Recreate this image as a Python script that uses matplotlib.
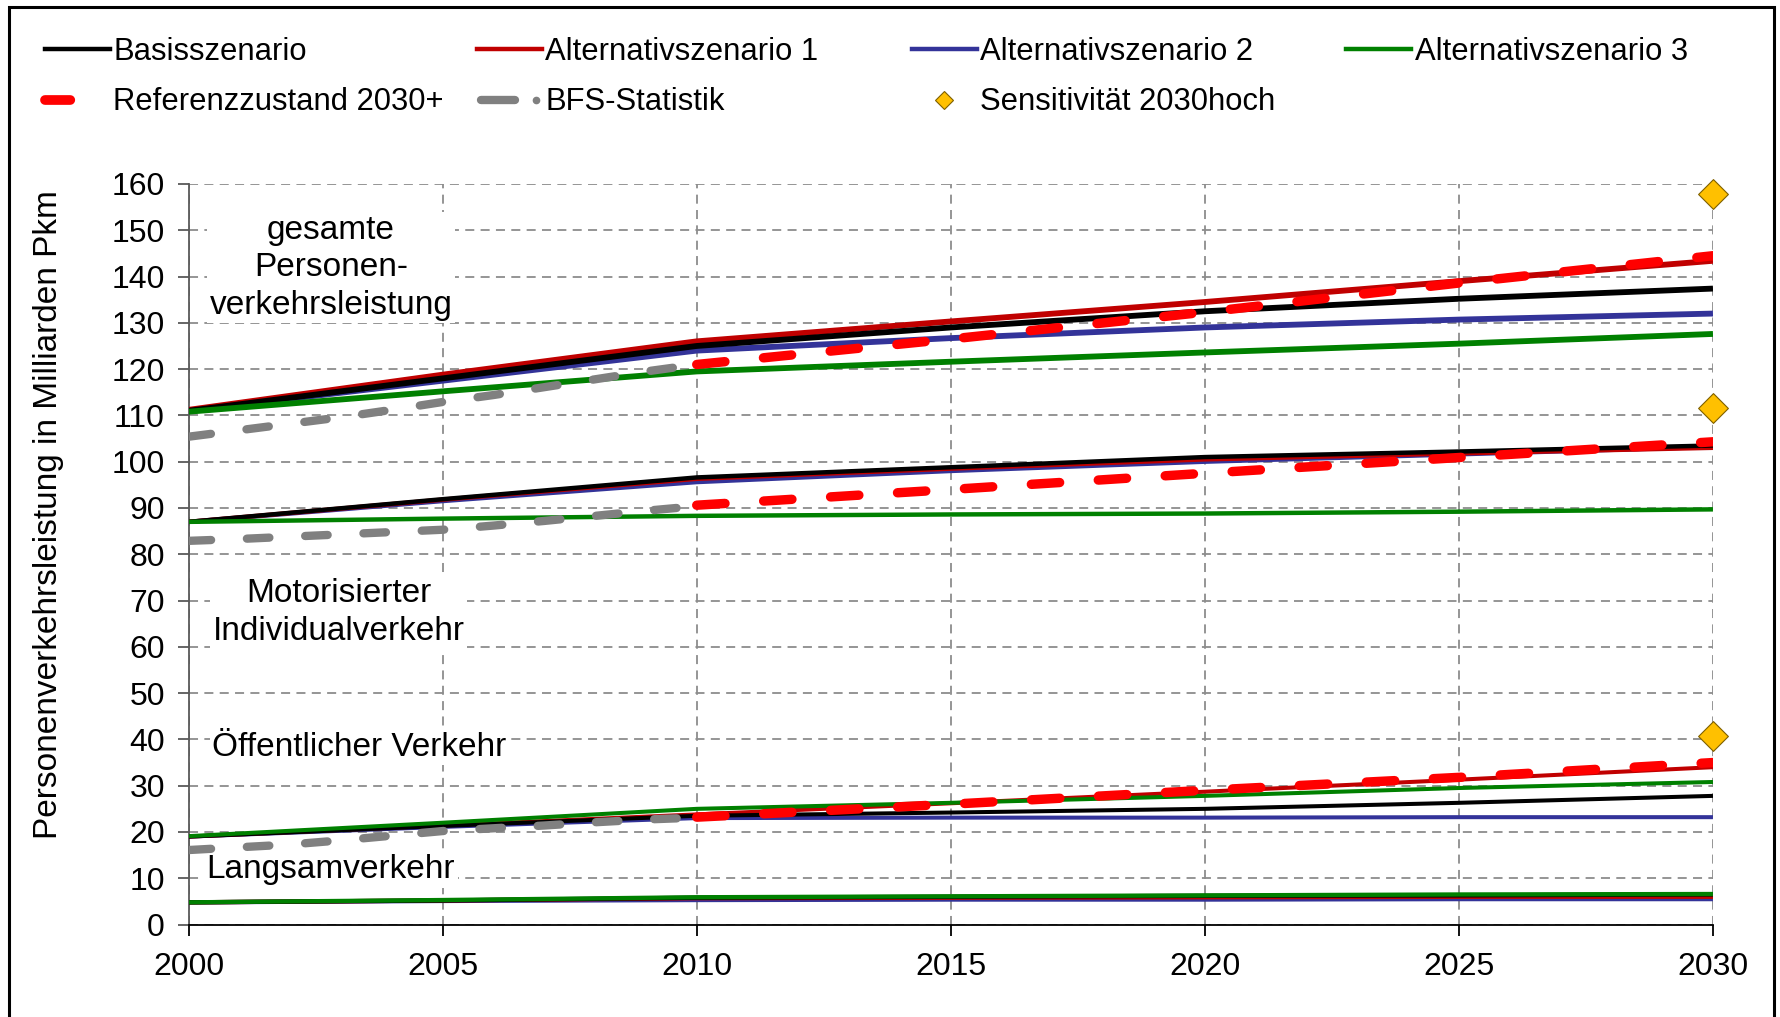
import matplotlib
matplotlib.use("Agg")
import matplotlib.pyplot as plt
from matplotlib.lines import Line2D
from matplotlib.patches import Rectangle
from matplotlib.legend_handler import HandlerBase

plt.rcParams['font.family'] = ['Liberation Sans', 'DejaVu Sans']

# ---------------- data ----------------
years = [2000, 2005, 2010, 2015, 2020, 2025, 2030]
ref_years = [2010, 2015, 2020, 2025, 2030]
bfs_years = [2000, 2001, 2002, 2003, 2004, 2005, 2006, 2007, 2008, 2009, 2010]

# gesamte Personenverkehrsleistung
tot_basis = [111.0, 118.0, 125.0, 129.0, 132.5, 135.2, 137.4]
tot_alt1 = [111.2, 118.8, 126.0, 130.3, 134.5, 139.0, 143.4]
tot_alt2 = [111.0, 117.5, 124.0, 126.7, 129.0, 130.7, 132.0]
tot_alt3 = [110.8, 115.2, 119.5, 121.6, 123.6, 125.5, 127.6]
tot_ref = [121.0, 126.5, 132.3, 138.6, 144.5]
tot_bfs = [105.4, 106.8, 108.2, 109.6, 111.2, 112.9, 114.4, 116.1, 117.8, 119.5, 121.0]

# Motorisierter Individualverkehr
miv_basis = [87.0, 91.9, 96.6, 98.8, 101.0, 102.2, 103.5]
miv_alt1 = [87.0, 91.8, 96.3, 98.5, 100.5, 101.8, 103.0]
miv_alt2 = [87.0, 91.5, 95.6, 98.0, 100.0, 101.6, 103.2]
miv_alt3 = [87.0, 87.7, 88.3, 88.6, 88.8, 89.2, 89.7]
miv_ref = [90.6, 94.0, 97.5, 100.9, 104.3]
miv_bfs = [82.9, 83.3, 83.8, 84.3, 84.8, 85.3, 86.2, 87.2, 88.3, 89.4, 90.4]

# Öffentlicher Verkehr
ov_basis = [19.0, 21.3, 23.5, 24.2, 25.0, 26.3, 27.8]
ov_alt1 = [19.0, 21.4, 23.8, 26.2, 28.7, 31.3, 34.0]
ov_alt2 = [19.0, 21.1, 23.0, 23.1, 23.1, 23.2, 23.2]
ov_alt3 = [19.1, 22.0, 25.0, 26.3, 27.8, 29.5, 30.8]
ov_ref = [23.2, 26.0, 29.0, 31.8, 35.0]
ov_bfs = [16.1, 16.7, 17.3, 18.2, 19.2, 20.2, 20.8, 21.4, 22.1, 22.7, 23.1]

# Langsamverkehr
lv_basis = [4.8, 5.2, 5.8, 6.0, 6.2, 6.3, 6.5]
lv_alt1 = [4.8, 5.2, 5.7, 5.8, 5.9, 6.0, 6.0]
lv_alt2 = [4.8, 5.1, 5.3, 5.4, 5.4, 5.5, 5.5]
lv_alt3 = [4.8, 5.3, 5.9, 6.1, 6.3, 6.5, 6.6]

# Sensitivität 2030hoch
sens_years = [2030, 2030, 2030]
sens_values = [157.8, 111.5, 40.8]

labels = ["Basisszenario", "Alternativszenario 1", "Alternativszenario 2",
          "Alternativszenario 3", "Referenzzustand 2030+", "BFS-Statistik",
          "Sensitivität 2030hoch"]
x_ticks = [2000, 2005, 2010, 2015, 2020, 2025, 2030]
y_ticks = list(range(0, 161, 10))

# ---------------- styles ----------------
C_BASIS = "#000000"
C_ALT1 = "#C00000"
C_ALT2 = "#333399"
C_ALT3 = "#008000"
C_REF = "#FF0000"
C_BFS = "#808080"
C_SENS = "#FFC000"
GRID = "#8C8C8C"
FS_TICK = 23
FS_LEG = 22.3
FS_ANN = 24
FS_YL = 24

fig = plt.figure(figsize=(17.81, 10.17), dpi=100)
ax = fig.add_axes([0.1059, 0.0909, 0.9618 - 0.1059, 0.8191 - 0.0909])

segments = [((tot_basis, tot_alt1, tot_alt2, tot_alt3), 4.2),
            ((miv_basis, miv_alt1, miv_alt2, miv_alt3), 3.2),
            ((ov_basis, ov_alt1, ov_alt2, ov_alt3), 2.9),
            ((lv_basis, lv_alt1, lv_alt2, lv_alt3), 3.1)]
for (b, a1, a2, a3), lw in segments:
    ax.plot(years, a2, color=C_ALT2, lw=lw, zorder=3, solid_capstyle='butt')
    ax.plot(years, a1, color=C_ALT1, lw=lw, zorder=3.1, solid_capstyle='butt')
    ax.plot(years, b, color=C_BASIS, lw=lw, zorder=3.2, solid_capstyle='butt')
    ax.plot(years, a3, color=C_ALT3, lw=lw, zorder=3.3, solid_capstyle='butt')

for r in [tot_ref, miv_ref, ov_ref]:
    ax.plot(ref_years, r, color=C_REF, lw=6.8, dashes=(3.0, 4.1),
            dash_capstyle='round', zorder=4)
for s in [tot_bfs, miv_bfs, ov_bfs]:
    ax.plot(bfs_years, s, color=C_BFS, lw=6, dashes=(2.7, 4.3),
            dash_capstyle='round', zorder=4.2)

ax.scatter(sens_years, sens_values, marker='D', s=230, color=C_SENS,
           edgecolor="#7F6000", linewidth=0.8, zorder=5, clip_on=False)

ax.set_xlim(2000, 2030)
ax.set_ylim(0, 160)
ax.set_xticks(x_ticks)
ax.set_yticks(y_ticks)
ax.tick_params(axis='both', labelsize=FS_TICK, direction='out', length=8, width=1.3)
ax.tick_params(axis='y', pad=9, color="#595959")
ax.tick_params(axis='x', pad=12, color="#000000")
ax.grid(True, color=GRID, lw=1.3, linestyle=(0, (5, 3.5)))
ax.set_axisbelow(True)
for sp in ['top', 'right']:
    ax.spines[sp].set_visible(False)
ax.spines['left'].set_color("#595959")
ax.spines['left'].set_linewidth(1.3)
ax.spines['bottom'].set_color("#000000")
ax.spines['bottom'].set_linewidth(1.3)
ax.spines['left'].set_zorder(2.5)
ax.spines['bottom'].set_zorder(2.5)

# annotations
bb = dict(facecolor='white', edgecolor='none', pad=2)
ax.text(2002.8, 141.9, "gesamte\nPersonen-\nverkehrsleistung", ha='center',
        va='center', fontsize=FS_ANN, bbox=bb, zorder=2, linespacing=1.27)
ax.text(2002.95, 67.4, "Motorisierter\nIndividualverkehr", ha='center',
        va='center', fontsize=FS_ANN, bbox=bb, zorder=2, linespacing=1.27)
ax.text(2000.47, 38.3, "Öffentlicher Verkehr", ha='left', va='center',
        fontsize=FS_ANN, bbox=bb, zorder=2)
ax.text(2000.35, 11.8, "Langsamverkehr", ha='left', va='center',
        fontsize=FS_ANN, bbox=bb, zorder=2)

fig.text(0.027, 0.494, "Personenverkehrsleistung in Milliarden Pkm",
         rotation=90, ha='center', va='center', fontsize=FS_YL)


# legend handler: dash followed by a small dot (as in the source)
class DashDotHandler(HandlerBase):
    def create_artists(self, legend, orig, xdescent, ydescent, width, height,
                       fontsize, trans):
        y = height / 2 - ydescent
        l1 = Line2D([-xdescent + 3, -xdescent + 0.58 * width], [y, y],
                    color=C_BFS, lw=6, solid_capstyle='round', transform=trans)
        l2 = Line2D([-xdescent + 0.9 * width], [y], marker='o', markersize=4.5,
                    color=C_BFS, lw=0, transform=trans)
        return [l1, l2]


h_basis = Line2D([], [], color=C_BASIS, lw=3.2)
h_alt1 = Line2D([], [], color=C_ALT1, lw=3.2)
h_alt2 = Line2D([], [], color=C_ALT2, lw=3.2)
h_alt3 = Line2D([], [], color=C_ALT3, lw=3.2)
h_ref = Line2D([], [], color=C_REF, lw=7, dashes=(2.6, 10), dash_capstyle='round')
h_bfs = Line2D([], [], color=C_BFS, lw=6)
h_sens = Line2D([], [], color=C_SENS, marker='D', markersize=9, lw=0,
                markeredgecolor="#7F6000", markeredgewidth=0.8)

cols = [([h_basis, h_ref], [labels[0], labels[4]], 0.0253),
        ([h_alt1, h_bfs], [labels[1], labels[5]], 0.2680),
        ([h_alt2, h_sens], [labels[2], labels[6]], 0.5120),
        ([h_alt3], [labels[3]], 0.7560)]
for hs, ls, xpos in cols:
    fig.legend(hs, ls, loc='upper left', bbox_to_anchor=(xpos, 0.964),
               frameon=False, fontsize=FS_LEG, handlelength=2.1,
               handletextpad=0.1, borderpad=0, borderaxespad=0,
               labelspacing=0.67, handler_map={h_bfs: DashDotHandler()})

# outer frame
fig.patches.append(Rectangle((0.005, -0.01), 0.991, 1.003, transform=fig.transFigure,
                             fill=False, edgecolor='black', lw=2.2))

fig.savefig("out.png", dpi=100)
